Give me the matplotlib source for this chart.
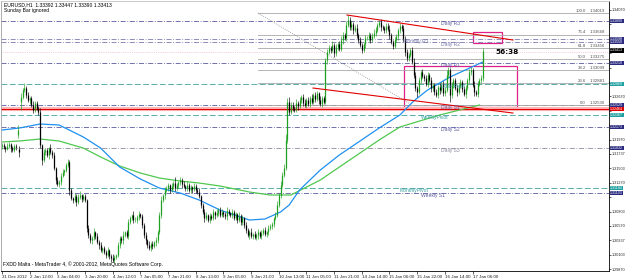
import numpy as np
import matplotlib.pyplot as plt
import matplotlib.transforms as mtransforms

# EURUSD H1, closes in pips above 1.29000
close_pips = [
    288, 285, 282, 287, 290, 283, 280, 287, 285, 312, 277, 366, 377, 380, 369, 361, 364, 353, 345, 356,
    348, 342, 288, 264, 277, 280, 272, 283, 277, 272, 251, 231, 225, 228, 238, 244, 248, 256, 261, 215,
    202, 199, 205, 196, 204, 207, 201, 205, 199, 154, 142, 134, 137, 147, 141, 131, 126, 118, 121, 115,
    110, 118, 108, 105, 102, 107, 110, 126, 137, 134, 142, 147, 141, 163, 170, 175, 167, 167, 171, 176,
    173, 158, 142, 134, 126, 121, 128, 124, 131, 134, 147, 175, 199, 207, 215, 218, 223, 215, 222, 227,
    218, 223, 228, 231, 225, 222, 218, 223, 215, 220, 217, 222, 215, 212, 205, 191, 180, 170, 175, 167,
    173, 170, 180, 175, 178, 183, 175, 180, 176, 173, 181, 178, 175, 180, 170, 176, 167, 173, 163, 170,
    158, 150, 142, 147, 141, 144, 139, 142, 147, 141, 146, 150, 144, 147, 154, 157, 160, 170, 175, 191,
    207, 223, 240, 251, 296, 358, 342, 353, 348, 345, 356, 351, 361, 366, 356, 353, 361, 355, 364, 358,
    369, 363, 372, 361, 355, 364, 358, 426, 439, 445, 442, 450, 437, 447, 452, 444, 458, 466, 461, 483,
    491, 479, 484, 474, 478, 466, 458, 450, 442, 452, 461, 461, 466, 458, 465, 470, 474, 483, 487, 479,
    478, 474, 481, 476, 466, 455, 449, 458, 465, 474, 481, 478, 458, 439, 429, 434, 442, 423, 402, 380,
    374, 393, 406, 400, 397, 387, 402, 393, 380, 385, 374, 369, 382, 377, 387, 372, 377, 402, 410, 369,
    385, 393, 380, 374, 384, 390, 379, 371, 380, 393, 406, 410, 385, 374, 371, 387, 393, 397, 440,
]
wick_up = [
    3, 4, 2, 5, 3, 2, 4, 3, 2, 9, 5, 6, 4, 9, 3, 5, 2, 4, 6, 3,
    4, 3, 6, 2, 5, 3, 4, 2, 6, 3, 4, 2, 5, 3, 4, 6, 2, 3, 5, 3,
    4, 2, 5, 3, 4, 6, 2, 4, 3, 2, 5, 4, 3, 6, 2, 4, 3, 5, 2, 4,
    3, 5, 2, 4, 6, 3, 2, 5, 4, 3, 6, 2, 4, 5, 3, 2, 6, 4, 3, 5,
    2, 4, 3, 5, 2, 6, 3, 4, 2, 5, 3, 4, 6, 2, 5, 3, 4, 2, 5, 3,
    9, 4, 2, 5, 3, 4, 2, 6, 3, 4, 2, 5, 3, 4, 6, 2, 3, 5, 4, 2,
    5, 3, 4, 2, 6, 3, 4, 5, 2, 3, 6, 4, 2, 5, 3, 4, 2, 6, 3, 4,
    2, 5, 3, 4, 6, 2, 4, 3, 5, 2, 4, 3, 6, 2, 5, 3, 4, 2, 5, 6,
    4, 7, 5, 6, 10, 6, 8, 4, 5, 3, 6, 4, 5, 3, 4, 6, 3, 5, 4, 6,
    3, 5, 4, 2, 6, 3, 4, 3, 4, 5, 3, 6, 4, 5, 3, 4, 6, 5, 3, 6,
    8, 4, 5, 3, 4, 6, 3, 5, 4, 3, 6, 4, 5, 3, 4, 6, 5, 3, 4, 5,
    4, 3, 5, 4, 6, 3, 4, 5, 3, 4, 5, 3, 4, 6, 5, 3, 4, 5, 6, 4,
    3, 5, 4, 6, 3, 4, 5, 3, 6, 4, 3, 5, 4, 6, 3, 4, 5, 7, 4, 3,
    5, 4, 3, 6, 4, 5, 3, 4, 6, 3, 5, 4, 3, 6, 4, 5, 3, 4, 5,
]
wick_dn = [
    4, 3, 5, 2, 4, 6, 3, 4, 5, 5, 8, 13, 4, 3, 5, 4, 6, 3, 5, 4,
    3, 5, 4, 8, 3, 5, 4, 6, 3, 5, 4, 6, 3, 5, 4, 2, 5, 3, 4, 8,
    3, 5, 4, 6, 3, 4, 5, 3, 4, 7, 5, 4, 6, 3, 5, 4, 6, 3, 5, 4,
    5, 3, 4, 6, 3, 5, 4, 3, 5, 4, 6, 3, 4, 5, 3, 4, 6, 3, 5, 4,
    3, 5, 4, 6, 5, 3, 4, 5, 3, 6, 4, 3, 5, 4, 6, 3, 5, 4, 3, 5,
    4, 3, 5, 4, 6, 3, 4, 5, 3, 4, 6, 3, 5, 4, 3, 5, 4, 6, 3, 4,
    5, 3, 4, 6, 3, 5, 4, 3, 5, 4, 6, 3, 4, 5, 3, 4, 6, 3, 5, 4,
    4, 5, 3, 6, 4, 5, 3, 4, 6, 3, 5, 4, 3, 5, 4, 3, 5, 4, 3, 4,
    3, 4, 3, 4, 3, 5, 6, 4, 5, 3, 4, 6, 3, 5, 4, 3, 5, 4, 6, 3,
    4, 5, 3, 6, 4, 5, 3, 3, 6, 4, 5, 3, 6, 4, 5, 3, 4, 6, 3, 4,
    3, 5, 4, 6, 3, 4, 5, 3, 5, 4, 6, 3, 4, 5, 3, 4, 5, 3, 4, 6,
    3, 4, 5, 4, 6, 3, 5, 4, 3, 6, 4, 5, 3, 6, 4, 5, 3, 4, 6, 5,
    8, 4, 5, 3, 6, 4, 5, 3, 6, 4, 5, 3, 4, 6, 3, 5, 4, 3, 5, 11,
    4, 5, 3, 6, 4, 3, 5, 4, 6, 3, 4, 5, 3, 6, 4, 5, 3, 4, 5,
]
# bars that opened with a gap (holiday)
gap_open = {0: 286, 9: 305, 10: 282, 11: 358}

time_labels = ["31 Dec 2012", "2 Jan 12:00", "3 Jan 04:00", "3 Jan 20:00", "4 Jan 12:00",
               "7 Jan 05:00", "7 Jan 21:00", "8 Jan 13:00", "9 Jan 05:00", "9 Jan 21:00",
               "10 Jan 13:00", "11 Jan 05:00", "11 Jan 21:00", "14 Jan 14:00", "15 Jan 06:00",
               "15 Jan 22:00", "16 Jan 14:00", "17 Jan 06:00"]

# moving averages (bar index, price)
ma_blue_x = [0, 10, 22, 33, 47, 57, 68, 80, 91, 103, 114, 126, 138, 143, 152, 161, 166, 172, 184, 195, 207, 218, 230, 238, 246, 259, 278]
ma_blue_y = [1.32124, 1.32156, 1.32221, 1.32205, 1.32011, 1.31832, 1.31525, 1.31330, 1.31184, 1.31103,
             1.30990, 1.30828, 1.30715, 1.30666, 1.30682, 1.30796, 1.30909, 1.31152, 1.31476, 1.31719,
             1.31946, 1.32156, 1.32367, 1.32594, 1.32772, 1.32983, 1.33226]
ma_green_x = [0, 10, 22, 33, 47, 57, 68, 80, 91, 103, 114, 126, 143, 155, 167, 184, 201, 218, 230, 253, 276]
ma_green_y = [1.31930, 1.31946, 1.31978, 1.31946, 1.31832, 1.31687, 1.31541, 1.31427, 1.31346, 1.31298,
              1.31265, 1.31217, 1.31120, 1.31071, 1.31071, 1.31314, 1.31638, 1.31962, 1.32173, 1.32367, 1.32529]

# pivot lines: (price, name, label x (bar), color, style)
pivots = [
    (1.33890, "Daily R3", 254, '#5a5aa0', '-.'),
    (1.33598, "Monthly R1", 232, '#7a7ab0', '-.'),
    (1.33550, "Daily R2", 254, '#7a7ab0', '-.'),
    (1.33210, "Daily R1", 254, '#5a5aa0', '-.'),
    (1.32869, "Daily Pivot", 254, '#3aa0a0', '--'),
    (1.32529, "Daily S1", 254, '#5a5aa0', '-.'),
    (1.32367, "WeeklyPivot", 242, '#3aa0a0', '--'),
    (1.32173, "Daily S2", 254, '#5a5aa0', '-.'),
    (1.31832, "Daily S3", 254, '#8a8aa0', '-.'),
    (1.31184, "MonthlyPivot", 230, '#3aa0a0', '--'),
    (1.31103, "Weekly S1", 242, '#5a5aa0', '-.'),
]
red_level = 1.32464
fib_levels = [100.0, 76.4, 61.8, 50.0, 38.2, 23.6, 0.0]
fib_lo, fib_hi = 1.32530, 1.34019

closes = 1.29 + np.array(close_pips) / 10000
opens = np.r_[closes[0], closes[:-1]]
for k, v in gap_open.items():
    opens[k] = 1.29 + v / 10000
hi = np.maximum(opens, closes) + np.array(wick_up) / 10000
lo = np.minimum(opens, closes) - np.array(wick_dn) / 10000
idx = np.arange(len(closes))

narrow = ['Liberation Sans Narrow', 'Liberation Sans', 'DejaVu Sans']

fig = plt.figure(figsize=(6.25, 2.79), dpi=100)
ax = fig.add_axes([1 / 625, 8 / 279, 608 / 625, 270 / 279])
ax.set_xlim(-0.58, 350.9)
ax.set_ylim(1.29840, 1.34214)

# horizontal levels
for price, name, lx, col, ls in pivots:
    ax.axhline(price, color=col, lw=0.6, ls=ls, dashes=(6, 2, 1, 2) if ls == '-.' else (7, 3))
    ax.text(lx, price - 0.00005, name, fontsize=3.6, color=col, va='top', ha='left', family=narrow)
ax.axhline(red_level, color='#ffb8b8', lw=3.0)
ax.axhline(red_level, color='#e00000', lw=0.8)
ax.axhline(1.33388, color='#f0a0b0', lw=0.5, ls=':')

# fibonacci
fx0 = 148
for lev in fib_levels:
    p = fib_lo + (fib_hi - fib_lo) * lev / 100
    ax.plot([fx0, 350.9], [p, p], color='#a8a8a8', lw=0.6)
    ax.text(337.5, p + 0.00004, f"{lev:.1f}", fontsize=3.1, color='#505050', ha='right', va='bottom', family=narrow)
    ax.text(339.5, p + 0.00004, f"{p:.5f}", fontsize=3.1, color='#505050', ha='left', va='bottom', family=narrow)
ax.plot([fx0, 237], [fib_hi, fib_lo], color='#909090', lw=0.6, ls=(0, (1, 1.5)))

# moving averages
ax.plot(ma_green_x, ma_green_y, color='#50c850', lw=0.9)
ax.plot(ma_blue_x, ma_blue_y, color='#2090f0', lw=0.9)

# candles
up = closes >= opens
for col, m in (('#20a020', up), ('#000000', ~up)):
    ax.vlines(idx[m], lo[m], hi[m], color=col, lw=0.45)
    ax.vlines(idx[m], np.minimum(opens, closes)[m], np.maximum(opens, closes)[m] + 0.00002, color=col, lw=0.9)

# trend lines and boxes
ax.plot([199.4, 295.4], [1.33987, 1.33582], color='#e00000', lw=0.8)
ax.plot([179.8, 295.4], [1.32804, 1.32399], color='#e00000', lw=0.8)
ax.add_patch(plt.Rectangle((232.4, 1.32497), 65.3, 0.00664, fill=False, ec='#e0208a', lw=0.9))
ax.add_patch(plt.Rectangle((272.3, 1.33533), 16.7, 0.00179, fill=False, ec='#e0208a', lw=0.9))
ax.text(285, 1.33395, "56:38", fontsize=5.2, fontweight='bold', ha='left', va='center')

# highlighted prices on the price axis
marks = [(1.33890, '#2a2a80'), (1.33598, '#2a2a80'), (1.33550, '#2a2a80'), (1.33413, '#000000'),
         (1.33210, '#2a2a80'), (1.32869, '#20a0a0'), (1.32529, '#2a2a80'), (red_level, '#e00000'),
         (1.32367, '#20a0a0'), (1.32173, '#2a2a80'), (1.31832, '#2a2a80'), (1.31184, '#20a0a0'),
         (1.31103, '#2a2a80')]

# axes styling; tick labels hidden under the price boxes are left out
ax.yaxis.tick_right()
yt = [1.29870 + k * 0.0023333 for k in range(19)]
ax.set_yticks(yt)
ax.set_yticklabels(["" if min(abs(v - p) for p, _ in marks) < 0.0008 else f"{v:.5f}" for v in yt],
                   family=narrow)
ax.tick_params(axis='y', labelsize=2.7, length=1.2, width=0.5, pad=0.6, colors='#202020')
xt = np.arange(len(time_labels)) * 16
ax.set_xticks(xt)
ax.set_xticklabels(time_labels, family=narrow)
ax.tick_params(axis='x', labelsize=3.2, length=2, width=0.5, pad=1, colors='#202020')
for t in ax.get_xticklabels():
    t.set_ha('left')
for s in ax.spines.values():
    s.set_linewidth(0.6)
ax.spines['left'].set_color('#a0a0a0')
ax.spines['top'].set_color('#c0c0c0')

trans = mtransforms.blended_transform_factory(ax.transAxes, ax.transData)
for p, c in marks:
    ax.text(1.002, p, f"{p:.5f}", transform=trans, fontsize=2.6, color='white', va='center', ha='left',
            family=narrow, bbox=dict(facecolor=c, edgecolor='none', pad=0.2), clip_on=False)

fig.text(4 / 625, 1 - 2 / 279, "EURUSD,H1  1.33392 1.33447 1.33390 1.33413", fontsize=3.6, va='top', family=narrow)
fig.text(4 / 625, 1 - 8 / 279, "Sunday Bar ignored", fontsize=3.6, va='top', family=narrow)
fig.text(3 / 625, 1 - 261 / 279, "FXDD Malta - MetaTrader 4, \u00a9 2001-2012, MetaQuotes Software Corp.",
         fontsize=3.6, va='top', family=narrow)

fig.savefig("out.png", dpi=100)
